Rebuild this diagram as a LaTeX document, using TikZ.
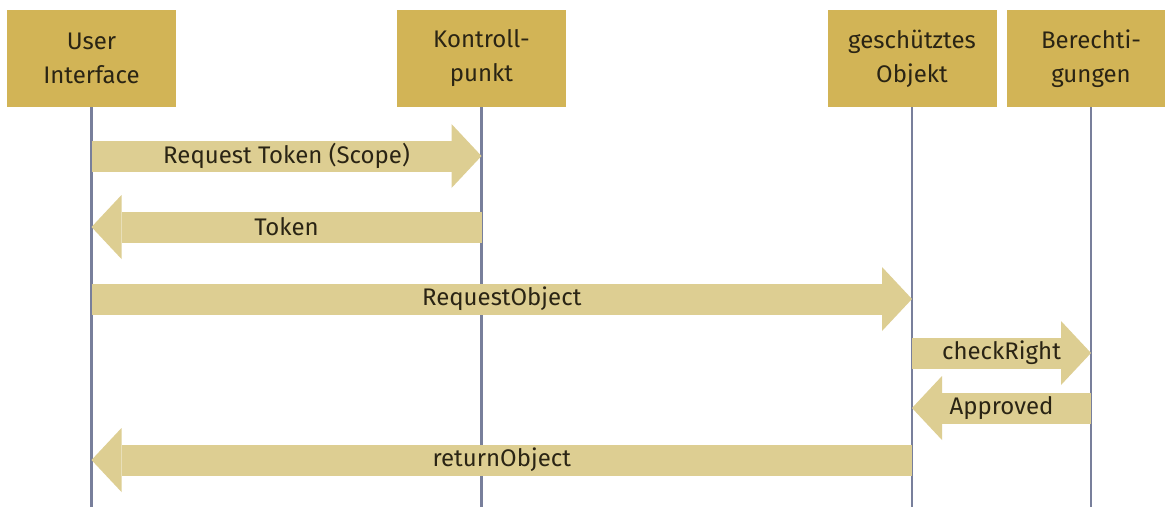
\documentclass[tikz,border=0pt]{standalone}
\usepackage{fontspec}
\setmainfont{Fira Sans}
\usetikzlibrary{arrows.meta,calc}
\definecolor{boxc}{RGB}{210,180,86}
\definecolor{arrc}{RGB}{221,206,146}
\definecolor{lifec}{RGB}{120,127,155}
\definecolor{txtc}{RGB}{42,36,20}
\tikzset{
  hdr/.style={fill=boxc, minimum width=169pt, minimum height=97pt, inner sep=0pt,
    align=center, text=txtc, font=\fontsize{24}{34}\selectfont},
  life/.style={draw=lifec, line width=2.4pt},
  msg/.style={draw=arrc, line width=31pt,
    -{Triangle[length=30pt,width=64pt,line width=0pt]}},
  lbl/.style={text=txtc, font=\fontsize{24}{28}\selectfont, inner sep=0pt}
}
\begin{document}
\begin{tikzpicture}[x=1pt,y=1pt]
\clip (0,0) rectangle (1165,-507);
\fill[white] (0,0) rectangle (1165,-507);
\node[hdr] (ui) at (91.5,-58.5) {User\\Interface};
\node[hdr] (kp) at (481.5,-58.5) {Kontroll-\\punkt};
\node[hdr] (go) at (912,-58.5) {geschütztes\\Objekt};
\node[hdr] (be) at (1091,-58.5) {Berechti-\\gungen};
\coordinate (uiE) at (ui.south |- 0,-507);
\coordinate (kpE) at (kp.south |- 0,-507);
\coordinate (goE) at (go.south |- 0,-507);
\coordinate (beE) at (be.south |- 0,-507);
\draw[life] (ui.south) -- (uiE);
\draw[life] (kp.south) -- (kpE);
\draw[life] (go.south) -- (goE);
\draw[life] (be.south) -- (beE);
\draw[msg] (ui.south |- 0,-156) -- (kp.south |- 0,-156) node[midway,lbl]{Request Token (Scope)};
\draw[msg] (kp.south |- 0,-227) -- (ui.south |- 0,-227) node[midway,lbl]{Token};
\draw[msg] (ui.south |- 0,-299) -- (go.south |- 0,-299) node[midway,lbl]{RequestObject};
\draw[msg] (go.south |- 0,-353) -- (be.south |- 0,-353) node[midway,lbl]{checkRight};
\draw[msg] (be.south |- 0,-408) -- (go.south |- 0,-408) node[midway,lbl]{Approved};
\draw[msg] (go.south |- 0,-460) -- (ui.south |- 0,-460) node[midway,lbl]{returnObject};
\end{tikzpicture}
\end{document}
